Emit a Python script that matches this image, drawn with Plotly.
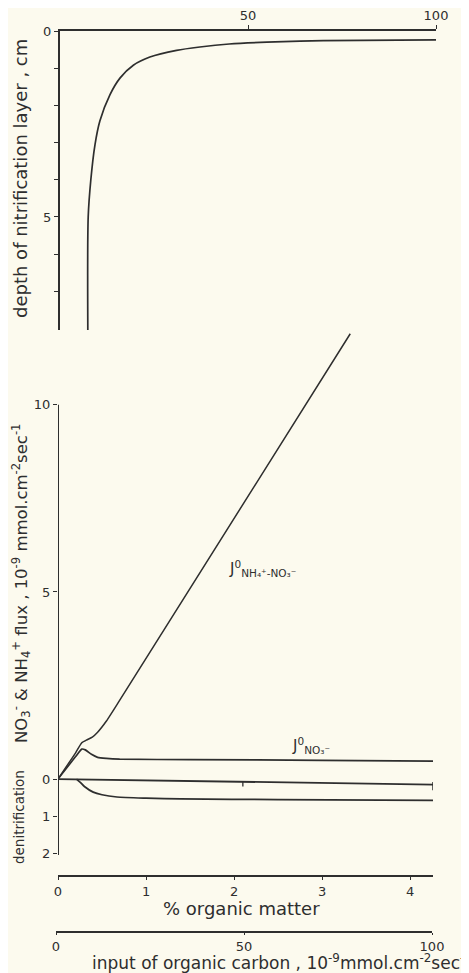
import plotly.graph_objects as go

# the page body has an 8px default margin, so the figure is drawn 8px in from the window edge
OFF = 8
W, H = 469 - OFF, 973 - OFF
BG = "#fcfaee"
INK = "#2e2e2e"
FONT = "DejaVu Sans"

# ---- data ----
# top panel: depth of nitrification layer vs input of organic carbon
carbon_in = [7.4, 7.5, 8.2, 9.3, 10.6, 13.3, 16.0, 19.5, 23.9, 31.0, 37.2, 45.0, 55.0, 70.0, 100.0]
depth_cm = [8.04, 5.0, 4.0, 3.06, 2.42, 1.71, 1.26, 0.92, 0.70, 0.52, 0.43, 0.35, 0.30, 0.26, 0.24]

# bottom panel: fluxes vs % organic matter
om_nh4 = [0.0, 0.1, 0.2, 0.27, 0.33, 0.39, 0.45, 0.55, 0.70, 3.32]
j_nh4_no3 = [0.0, 0.35, 0.70, 0.97, 1.05, 1.12, 1.25, 1.55, 2.1, 11.9]

om_no3 = [0.0, 0.1, 0.2, 0.27, 0.31, 0.38, 0.45, 0.55, 0.70, 1.5, 3.0, 4.26]
j_no3 = [0.0, 0.3, 0.6, 0.8, 0.78, 0.66, 0.58, 0.55, 0.53, 0.52, 0.50, 0.48]

om_den = [0.21, 0.25, 0.30, 0.40, 0.50, 0.67, 1.0, 1.39, 2.5, 4.26]
denitr = [0.0, -0.08, -0.20, -0.35, -0.42, -0.48, -0.51, -0.53, -0.55, -0.57]

top_xticks = [50, 100]
top_yticks = [0, 1, 2, 3, 4, 5, 6, 7]
top_yticktext = ["0", "", "", "", "", "5", "", ""]
bot_yticks = [-2, -1, 0, 5, 10]
bot_yticktext = ["2", "1", "0", "5", "10"]
om_ticks = [0, 1, 2, 3, 4]
carbon_ticks = [0, 50, 100]


def px(x):
    return (x - OFF) / W


def py(y):
    return 1 - (y - OFF) / H


fig = go.Figure()
fig.add_trace(go.Scatter(x=carbon_in, y=depth_cm, mode="lines",
                         line=dict(color=INK, width=1.7, shape="spline", smoothing=0.8),
                         xaxis="x", yaxis="y", hoverinfo="skip"))
fig.add_trace(go.Scatter(x=om_nh4, y=j_nh4_no3, mode="lines",
                         line=dict(color=INK, width=1.5, shape="spline", smoothing=0.5),
                         xaxis="x2", yaxis="y2", hoverinfo="skip"))
fig.add_trace(go.Scatter(x=om_no3, y=j_no3, mode="lines",
                         line=dict(color=INK, width=1.7, shape="spline", smoothing=0.6),
                         xaxis="x2", yaxis="y2", hoverinfo="skip"))
fig.add_trace(go.Scatter(x=om_den, y=denitr, mode="lines",
                         line=dict(color=INK, width=1.7, shape="spline", smoothing=0.6),
                         xaxis="x2", yaxis="y2", hoverinfo="skip"))
# invisible trace to hold the carbon-input axis under the bottom panel
fig.add_trace(go.Scatter(x=[0, 100], y=[None, None], mode="lines", xaxis="x3", yaxis="y2",
                         line=dict(color="rgba(0,0,0,0)"), hoverinfo="skip"))

axfont = dict(family=FONT, size=13, color=INK)
common = dict(showgrid=False, zeroline=False, automargin=False, tickcolor=INK, tickfont=axfont)

fig.update_layout(
    width=W, height=H,
    margin=dict(l=0, r=0, t=0, b=0, pad=0, autoexpand=False),
    paper_bgcolor=BG, plot_bgcolor="rgba(0,0,0,0)",
    showlegend=False,
    font=dict(family=FONT, color=INK),
    xaxis=dict(domain=[px(60), px(436)], range=[0, 100], side="top", anchor="y",
               showline=True, linecolor=INK, linewidth=2, ticks="outside", ticklen=4,
               tickvals=top_xticks, **common),
    yaxis=dict(domain=[py(330), py(31)], range=[8.04, 0], anchor="x",
               showline=True, linecolor=INK, linewidth=2, ticks="outside", ticklen=4,
               tickvals=top_yticks, ticktext=top_yticktext, **common),
    xaxis2=dict(domain=[px(58), px(433)], range=[0, 4.26], anchor="free", position=py(876),
                showline=True, linecolor=INK, linewidth=2, ticks="outside", ticklen=3,
                tickvals=om_ticks, **common),
    yaxis2=dict(domain=[py(855), py(330)], range=[-2.03, 12.0], anchor="x2",
                showline=False, ticks="outside", ticklen=4,
                tickvals=bot_yticks, ticktext=bot_yticktext, **common),
    xaxis3=dict(domain=[px(56), px(432)], range=[0, 100], anchor="free", position=py(932),
                showline=True, linecolor=INK, linewidth=2, ticks="outside", ticklen=2,
                tickvals=carbon_ticks, **common),
)

# left axis line of bottom panel (from -2 to 10 only)
fig.add_shape(type="line", xref="x2", yref="y2", x0=0, x1=0, y0=-2.03, y1=10,
              line=dict(color=INK, width=2))
# zero line across bottom panel with small ticks
fig.add_shape(type="line", xref="x2", yref="y2", x0=0, x1=4.26, y0=0, y1=-0.15,
              line=dict(color=INK, width=1.8))
fig.add_shape(type="line", xref="x2", yref="y2", x0=2.1, x1=2.1, y0=-0.07, y1=-0.2,
              line=dict(color=INK, width=1.3))
fig.add_shape(type="line", xref="x2", yref="y2", x0=4.26, x1=4.26, y0=-0.08, y1=-0.3,
              line=dict(color=INK, width=1.5))


def note(text, x, y, size, angle=0, xanchor="center"):
    fig.add_annotation(text=text, xref="paper", yref="paper", x=px(x), y=py(y),
                       xanchor=xanchor, yanchor="middle", textangle=angle, showarrow=False,
                       font=dict(family=FONT, size=size, color=INK))


# axis titles
note("depth of nitrification layer , cm", 20, 179, 18, -90)
note("denitrification", 19, 817, 13.5, -90)
note("NO<sub>3</sub><sup>-</sup> & NH<sub>4</sub><sup>+</sup> flux , 10<sup>-9</sup> mmol.cm<sup>-2</sup>sec<sup>-1</sup>",
     21, 584, 16.5, -90)
note("% organic matter", 241, 908, 18)
note("input of organic carbon , 10<sup>-9</sup>mmol.cm<sup>-2</sup>sec<sup>-1</sup>", 90, 962, 17, xanchor="left")

# curve labels
note("J<sup>0</sup><sub>NH₄⁺-NO₃⁻</sub>", 262, 568, 15)
note("J<sup>0</sup><sub>NO₃⁻</sub>", 311, 745, 15)

fig.write_html("out.html")
